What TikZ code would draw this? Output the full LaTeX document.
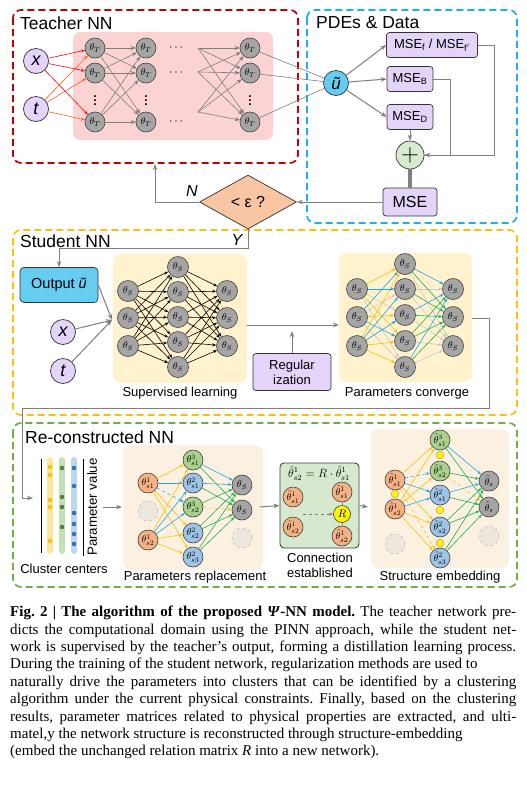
\documentclass[tikz,border=0pt]{standalone}
\usepackage{fontspec}
\setmainfont{Liberation Serif}
\setsansfont{Liberation Sans}
\renewcommand{\familydefault}{\sfdefault}
\usetikzlibrary{arrows.meta,shapes.geometric}

% group frames and fills
\definecolor{teachred}{HTML}{C00000}
\definecolor{pdeblue}{HTML}{1CB0EA}
\definecolor{studyellow}{HTML}{FFC000}
\definecolor{recgreen}{HTML}{70AD47}
\definecolor{pinkbg}{HTML}{FCD3D3}
\definecolor{creambg}{HTML}{FFF2CC}
\definecolor{recbg}{HTML}{FCF1E1}
\definecolor{lavender}{HTML}{E4D4FA}
\definecolor{skyblue}{HTML}{66CDF0}
\definecolor{peach}{HTML}{F8C6A3}
\definecolor{plusgreen}{HTML}{D8EAD0}
\definecolor{conngreen}{HTML}{D6E9CF}
% neurons
\definecolor{ngray}{HTML}{A5A5A5}
\definecolor{norange}{HTML}{F4B183}
\definecolor{ngreen}{HTML}{A9D18E}
\definecolor{nblue}{HTML}{9DC3E6}
\definecolor{nblank}{HTML}{ECE7DF}
% connections
\definecolor{lyellow}{HTML}{FFC000}
\definecolor{lblue}{HTML}{1AA9E8}
\definecolor{lgreen}{HTML}{1DB04E}
\definecolor{lgray}{HTML}{C8C8C8}
\definecolor{conngray}{HTML}{7F7F7F}
\definecolor{orangered}{HTML}{FF5A1E}
% cluster bars
\definecolor{baryellow}{HTML}{FFE699}
\definecolor{bargreen}{HTML}{C5E0B4}
\definecolor{barblue}{HTML}{BDD7EE}
\definecolor{dotgreen}{HTML}{548235}
\definecolor{dotblue}{HTML}{2E75B6}

\begin{document}
\begin{tikzpicture}[x=1pt, y=-1pt]
    \tikzset{
        grpbox/.style={dash pattern=on 7pt off 4pt, line width=1.7pt, rounded corners=8pt},
        grptitle/.style={anchor=west, inner sep=0pt, font=\fontsize{17.5}{17.5}\selectfont},
        netlabel/.style={inner sep=0pt, align=center, font=\fontsize{13}{15}\selectfont},
        neuron/.style={circle, draw=black!75, line width=0.6pt, minimum size=20pt, inner sep=0pt, font=\fontsize{10}{10}\selectfont},
        tneuron/.style={neuron, fill=ngray},
        sneuron/.style={neuron, fill=ngray, minimum size=21pt},
        vacant/.style={circle, draw=black!30, dashed, fill=nblank, minimum size=20pt},
        inlet/.style={circle, draw=black!80, line width=0.7pt, fill=lavender, minimum size=25pt, inner sep=0pt, font=\itshape\fontsize{18}{18}\selectfont},
        lossbox/.style={rectangle, rounded corners=3pt, draw=black!80, line width=0.7pt, fill=lavender, minimum height=25pt, inner sep=2pt, font=\fontsize{13}{15}\selectfont},
        link/.style={-{Stealth[length=6pt,width=4.5pt]}, conngray, line width=1pt},
        tlink/.style={-{Stealth[length=5pt,width=4pt]}, conngray, line width=0.6pt},
        nlink/.style={-{Stealth[length=4pt,width=3pt]}, line width=0.6pt},
    }
    \useasboundingbox (0,0) rectangle (527,788);
    \fill[white] (0,0) rectangle (527,788);

    %% Teacher NN
    \draw[grpbox, teachred] (13,10) rectangle (298,163);
    \node[grptitle] at (20,23) {Teacher NN};
    \fill[pinkbg, rounded corners=7pt] (73,32) rectangle (273,140);
    \node[inlet] (tx) at (36,61) {x};
    \node[inlet] (tt) at (36,109) {t};
    \foreach \k/\q in {1/48,2/73,3/122} {
        \node[tneuron] (ta\k) at (95,\q) {$\theta_T$};
        \node[tneuron] (tb\k) at (146,\q) {$\theta_T$};
        \node[tneuron] (tc\k) at (250,\q) {$\theta_T$};
        \node[font=\bfseries\fontsize{12}{12}\selectfont] (tdots\k) at (176,\q) {$\cdots$};
    }
    \foreach \k/\q in {1/48,2/72,3/112}
        \coordinate (td\k) at (198,\q);
    \foreach \p in {95,146,250}
        \node[font=\bfseries\fontsize{12}{12}\selectfont] at (\p,98) {$\vdots$};

    %% PDEs & Data
    \draw[grpbox, pdeblue] (307,10) rectangle (517,223);
    \node[grptitle] at (316,23) {PDEs \& Data};
    \node[inlet, fill=skyblue, font=\itshape\fontsize{17}{17}\selectfont] (u) at (336,83) {ũ};
    \node[lossbox, minimum width=91pt] (mf) at (432,45) {MSE\textsubscript{f} / MSE\textsubscript{f$'$}};
    \node[lossbox, minimum width=46pt] (mb) at (410,79) {MSE\textsubscript{B}};
    \node[lossbox, minimum width=46pt] (md) at (410,117) {MSE\textsubscript{D}};
    \node[circle, draw=black!80, line width=0.7pt, fill=plusgreen, minimum size=28pt, inner sep=0pt, font=\fontsize{26}{26}\selectfont] (sum) at (410,155) {$+$};
    \node[lossbox, minimum width=54pt, minimum height=28pt, font=\fontsize{16}{16}\selectfont] (mse) at (410,202) {MSE};

    % teacher connections
    \foreach \k in {1,2,3} {
        \draw[nlink, red] (tx) -- (ta\k);
        \draw[nlink, orangered] (tt) -- (ta\k);
        \foreach \m in {1,2,3} {
            \draw[tlink] (ta\k) -- (tb\m);
            \draw[tlink] (td\k) -- (tc\m);
        }
        \draw[conngray, line width=0.6pt] (tc\k) -- (u);
    }

    % loss terms
    \draw[link] (u) -- (mf.west);
    \draw[link] (u) -- (mb.west);
    \draw[link] (u) -- (md.west);
    \draw[link] (mf.east) -- ++(17,0) |- (sum.east);
    \draw[conngray, line width=1pt] (mb.east) -- ++(17,0) |- (sum.east);
    \draw[link] (md) -- (sum);
    \draw[conngray, line width=4pt] (sum) -- (mse);

    %% check
    \node[diamond, draw=black!80, line width=0.7pt, fill=peach, minimum width=97pt, minimum height=54pt, inner sep=0pt, font=\fontsize{16}{16}\selectfont] (test) at (248,202) {< ε ?};
    \draw[link] (mse) -- (test);
    \coordinate (tback) at (155,164);
    \draw[link] (test.west) -| (tback);
    \node[font=\itshape\fontsize{16}{16}\selectfont] (nlab) at (192,191) {N};

    %% Student NN
    \draw[grpbox, studyellow] (13,230) rectangle (517,415);
    \node[grptitle] at (20,241) {Student NN};
    \node[rectangle, rounded corners=4pt, draw=black!80, line width=0.7pt, fill=skyblue, minimum width=78pt, minimum height=35pt, font=\fontsize{14.5}{14.5}\selectfont] (out) at (59,285) {Output \textit{ũ}};
    \draw[link] (test.south) -- ++(0,19) -| (out.north);
    \node[font=\itshape\fontsize{16}{16}\selectfont] (ylab) at (237,240) {Y};
    \node[inlet] (sx) at (63,332) {x};
    \node[inlet] (st) at (63,371) {t};
    \coordinate (sin) at (112,320);
    \draw[link] (out.east) -- (sin);
    \draw[link] (sx) -- (sin);
    \draw[link] (st) -- (sin);

    % supervised learning
    \fill[creambg, rounded corners=8pt] (113,254) rectangle (247,383);
    \foreach \k/\q in {1/291,2/318,3/346} {
        \node[sneuron] (sa\k) at (128,\q) {$\theta_S$};
        \node[sneuron] (sc\k) at (227,\q) {$\theta_S$};
    }
    \foreach \k/\q in {1/267,2/292,3/317,4/342,5/367}
        \node[sneuron] (sb\k) at (178,\q) {$\theta_S$};
    \foreach \i in {1,2,3}
        \foreach \j in {1,...,5} {
            \draw[nlink, black] (sa\i) -- (sb\j);
            \draw[nlink, black] (sb\j) -- (sc\i);
        }
    \node[netlabel] at (180,393) {Supervised learning};

    \coordinate (sout) at (247,325);
    \coordinate (cin) at (339,325);
    \draw[link] (sout) -- (cin);
    \node[lossbox, minimum width=78pt, minimum height=37pt, align=center] (reg) at (292,372) {Regular\\ization};
    \draw[link] (reg.north) -- ++(0,-22);

    % parameters converge
    \fill[creambg, rounded corners=8pt] (339,253) rectangle (472,382);
    \foreach \k/\q in {1/289,2/317,3/346} {
        \node[sneuron] (ca\k) at (357,\q) {$\theta_S$};
        \node[sneuron] (cc\k) at (453,\q) {$\theta_S$};
    }
    \foreach \k/\q in {1/264,2/289,3/315,4/341,5/367}
        \node[sneuron] (cb\k) at (405,\q) {$\theta_S$};
    \foreach \i/\j/\col in {1/3/lgray,1/5/lgray,2/2/lgray,2/5/lgray,3/3/lgray,
                            1/1/lyellow,1/4/lyellow,2/3/lyellow,3/1/lyellow,3/4/lyellow,3/5/lyellow,
                            1/2/lblue,2/1/lblue,2/4/lblue,3/2/lblue,3/3/lblue}
        \draw[nlink, draw=\col] (ca\i) -- (cb\j);
    \foreach \j/\i/\col in {1/3/lgray,2/1/lgray,2/3/lgray,3/3/lgray,4/3/lgray,5/3/lgray,
                            1/2/lgreen,2/2/lgreen,3/2/lgreen,4/2/lgreen,5/2/lgreen,4/1/lgreen,
                            1/1/lblue,3/1/lblue,5/1/lblue}
        \draw[nlink, draw=\col] (cb\j) -- (cc\i);
    \node[netlabel] at (407,393) {Parameters converge};

    %% Re-constructed NN
    \draw[grpbox, recgreen] (13,423) rectangle (517,587);
    \node[grptitle] at (25,437) {Re-constructed NN};
    \coordinate (cout) at (472,318);
    \coordinate (kin) at (33,498);
    \draw[link] (cout) -| (489,408) -| (22,498) -- (kin);

    % cluster centers
    \foreach \xx/\col in {50/baryellow,62/bargreen,74/barblue}
        \draw[line width=6pt, line cap=round, draw=\col] (\xx,460) -- (\xx,551);
    \draw[line width=1pt] (41,459) -- (41,553);
    \draw[line width=1pt] (83,459) -- (83,556);
    \foreach \yy in {467,475,500,507,541}
        \fill[lyellow] (50,\yy) circle (2.3);
    \foreach \yy in {468,497,507,527}
        \fill[dotgreen] (62,\yy) circle (2.3);
    \foreach \yy in {468,486,513,524,534,544}
        \fill[dotblue] (74,\yy) circle (2.3);
    \node[netlabel, rotate=90, font=\fontsize{13.3}{13.3}\selectfont] at (92,507) {Parameter value};
    \node[netlabel] at (64,569) {Cluster centers};
    \coordinate (kout) at (103,507);
    \coordinate (pin) at (122,507);
    \draw[link] (kout) -- (pin);

    % parameters replacement
    \fill[recbg, rounded corners=8pt] (123,445) rectangle (263,570);
    \node[neuron, fill=norange] (pa1) at (148,483) {$\theta^1_{s1}$};
    \node[vacant] at (148,511) {};
    \node[neuron, fill=norange] (pa2) at (148,540) {$\theta^1_{s2}$};
    \foreach \k/\q/\col/\txt in {1/460/ngreen/{\theta^3_{s1}},2/483/nblue/{\theta^2_{s1}},3/507/ngreen/{\theta^3_{s2}},
                                 4/533/nblue/{\theta^2_{s2}},5/557/nblue/{\theta^2_{s3}}}
        \node[neuron, fill=\col] (pb\k) at (193,\q) {$\txt$};
    \node[neuron, fill=ngray] (pc1) at (242,485) {$\theta_S$};
    \node[neuron, fill=ngray] (pc2) at (242,510) {$\theta_S$};
    \node[vacant] at (242,538) {};
    \foreach \i/\j/\col/\dsh in {1/1/lyellow/solid,1/2/lblue/solid,1/3/lblue/dashed,1/4/lyellow/solid,1/5/lyellow/solid,
                                 2/1/lyellow/solid,2/2/lblue/solid,2/3/lblue/solid,2/4/lyellow/solid,2/5/lyellow/solid}
        \draw[nlink, draw=\col, \dsh] (pa\i) -- (pb\j);
    \foreach \j/\i/\col/\dsh in {1/1/lblue/solid,1/2/lgreen/solid,2/1/lblue/solid,2/2/lgreen/solid,3/1/lgreen/solid,
                                 3/2/lyellow/dashed,4/1/lgreen/solid,4/2/lgreen/solid,5/1/lgreen/solid,5/2/lgreen/solid}
        \draw[nlink, draw=\col, \dsh] (pb\j) -- (pc\i);
    \node[netlabel] at (195,577) {Parameters replacement};
    \coordinate (pout) at (260,507);

    % connection established
    \node[rectangle, rounded corners=4pt, draw=black!75, line width=0.9pt, fill=conngreen, minimum width=79pt, minimum height=85pt] (conn) at (319.5,505.5) {};
    \draw[link] (pout) -- (conn.west);
    \node[font=\fontsize{11.5}{11.5}\selectfont] (rel) at (319,473) {$\hat\theta^1_{s2}=R\cdot\hat\theta^1_{s1}$};
    \node[neuron, fill=norange] (h1) at (293,497) {$\hat\theta^1_{s1}$};
    \node[neuron, fill=norange] (h2) at (293,527) {$\hat\theta^1_{s2}$};
    \node[neuron, fill=norange] (k1) at (342,492) {$\hat\theta^1_{s1}$};
    \node[circle, draw=black!75, line width=0.6pt, fill=yellow, minimum size=17pt, inner sep=0pt, font=\fontsize{11}{11}\selectfont] (kr) at (342,514) {$R$};
    \node[neuron, fill=norange] (k2) at (342,536) {$\hat\theta^1_{s2}$};
    \draw[draw=norange!80!black, line width=0.8pt] (k1) -- (kr) -- (k2);
    \coordinate (dstart) at (303,514);
    \draw[nlink, conngray, dashed] (dstart) -- (kr);
    \node[netlabel] at (320,565) {Connection\\established};
    \coordinate (sein) at (368,507);
    \draw[link] (conn.east) -- (sein);

    % structure embedding
    \fill[recbg, rounded corners=8pt] (371,429) rectangle (509,568);
    \node[neuron, fill=norange] (ea1) at (395,480) {$\hat\theta^1_{s1}$};
    \node[neuron, fill=norange] (ea2) at (395,509) {$\hat\theta^1_{s2}$};
    \node[vacant] at (395,544) {};
    \foreach \k/\q/\col/\txt in {1/440/ngreen/{\hat\theta^3_{s1}},2/471/ngreen/{\hat\theta^3_{s2}},3/495/nblue/{\hat\theta^2_{s1}},
                                 4/527/nblue/{\hat\theta^2_{s2}},5/558/nblue/{\hat\theta^2_{s3}}}
        \node[neuron, fill=\col] (eb\k) at (440,\q) {$\txt$};
    \node[neuron, fill=ngray] (ec1) at (489,481) {$\hat\theta_s$};
    \node[neuron, fill=ngray] (ec2) at (489,507) {$\hat\theta_s$};
    \node[vacant] at (489,536) {};
    \foreach \i/\j/\col/\dsh in {1/1/lyellow/solid,1/2/lblue/dashed,1/3/lblue/solid,1/4/lyellow/solid,1/5/lyellow/dashed,
                                 2/1/lyellow/solid,2/2/lyellow/solid,2/3/lblue/solid,2/4/lyellow/solid,2/5/lyellow/solid}
        \draw[nlink, draw=\col, \dsh] (ea\i) -- (eb\j);
    \foreach \j/\i/\col/\dsh in {1/1/lblue/solid,1/2/lgreen/solid,2/1/lgreen/solid,2/2/lyellow/dashed,3/1/lblue/solid,
                                 3/2/lgreen/solid,4/1/lgreen/solid,4/2/lgreen/solid,5/1/lgreen/solid,5/2/lgreen/solid}
        \draw[nlink, draw=\col, \dsh] (eb\j) -- (ec\i);
    \node[circle, fill=yellow, draw=black!40, minimum size=8pt, inner sep=0pt] at (395,494) {};
    \foreach \yy in {455,510,543}
        \node[circle, fill=yellow, draw=black!40, minimum size=8pt, inner sep=0pt] at (440,\yy) {};
    \node[netlabel] at (440,577) {Structure embedding};

    %% caption
    \node[anchor=north west, text width=506pt, align=justify, inner sep=0pt,
          font=\rmfamily\fontsize{15}{17.4}\selectfont\frenchspacing] (cap) at (10,606) {%
        \textbf{Fig. 2 | The algorithm of the proposed \textit{Ψ}-NN model.} The teacher network pre-\linebreak
        dicts the computational domain using the PINN approach, while the student net-\linebreak
        work is supervised by the teacher's output, forming a distillation learning process.\linebreak
        During the training of the student network, regularization methods are used to\\
        naturally drive the parameters into clusters that can be identified by a clustering\linebreak
        algorithm under the current physical constraints. Finally, based on the clustering\linebreak
        results, parameter matrices related to physical properties are extracted, and ulti-\linebreak
        matel,y the network structure is reconstructed through structure-embedding\\
        (embed the unchanged relation matrix \textit{R} into a new network).};
\end{tikzpicture}
\end{document}
